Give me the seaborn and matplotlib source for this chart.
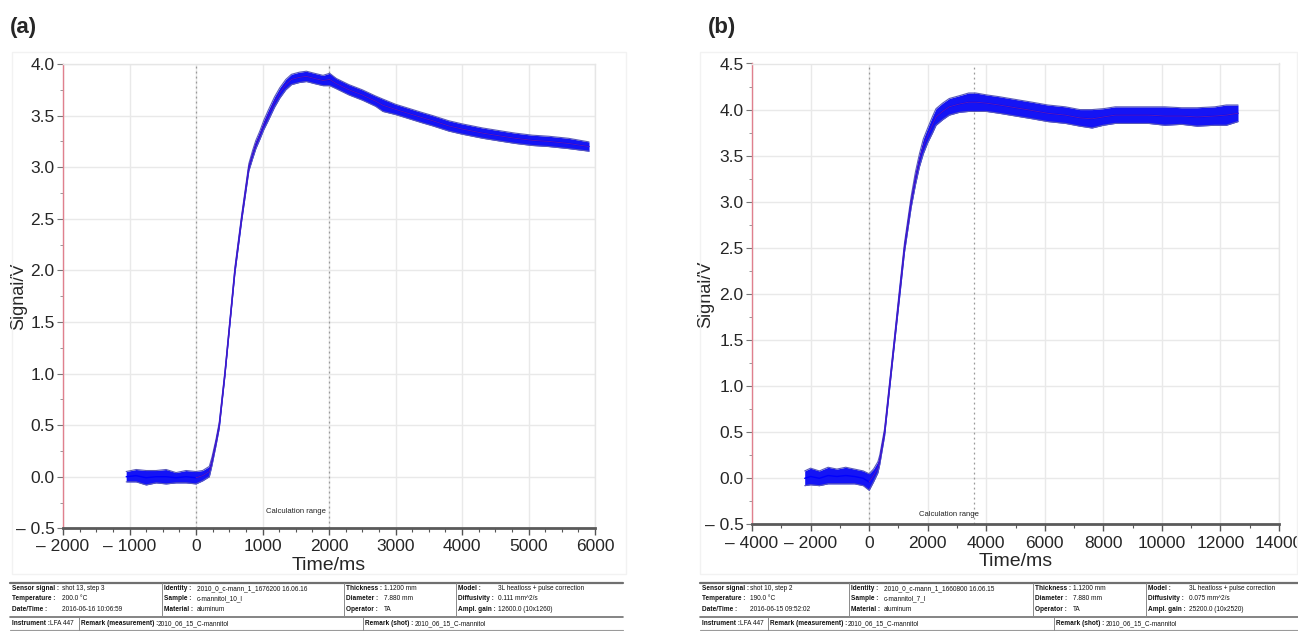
import matplotlib
matplotlib.use("Agg")
import matplotlib.pyplot as plt
from matplotlib.ticker import MultipleLocator
from matplotlib.lines import Line2D
from matplotlib.patches import Rectangle
import pandas as pd
import seaborn as sns

# ---------------- data: shot (a) ----------------
time_a = [-1050, -900, -750, -600, -450, -300, -150, 0, 100, 200, 240, 300, 350,
          435, 510, 585, 685, 795, 850, 900, 960, 1020, 1085, 1180, 1260, 1350, 1435, 1550,
          1660, 1780, 1910, 2010, 2110, 2300, 2500, 2700, 2810, 3000, 3200, 3400,
          3560, 3800, 4000, 4310, 4600, 4800, 5060, 5300, 5600, 5910]
signal_a = [0.00, 0.01, -0.01, 0.00, 0.00, -0.01, 0.00, -0.01, 0.01, 0.05, 0.15, 0.33, 0.50,
            1.00, 1.50, 2.00, 2.50, 3.00, 3.12, 3.22, 3.31, 3.41, 3.50, 3.63, 3.72, 3.80, 3.85, 3.87,
            3.88, 3.86, 3.84, 3.85, 3.81, 3.75, 3.70, 3.64, 3.60, 3.56, 3.52, 3.48,
            3.45, 3.40, 3.37, 3.33, 3.30, 3.28, 3.26, 3.25, 3.23, 3.20]
noise_a = [0.05, 0.06, 0.07, 0.06, 0.07, 0.05, 0.06, 0.06, 0.05, 0.05, 0.04, 0.03, 0.03,
           0.025, 0.025, 0.03, 0.03, 0.035, 0.04, 0.04, 0.04, 0.045, 0.05, 0.05, 0.05, 0.05, 0.05, 0.05,
           0.05, 0.05, 0.05, 0.06, 0.05, 0.05, 0.05, 0.05, 0.06, 0.05, 0.05, 0.05,
           0.05, 0.05, 0.05, 0.05, 0.05, 0.05, 0.05, 0.05, 0.05, 0.045]
calc_end_a = 2000

# ---------------- data: shot (b) ----------------
time_b = [-2200, -2000, -1700, -1400, -1100, -800, -500, -200, 0, 150, 300, 363, 529,
          698, 868, 1037, 1207, 1437, 1580, 1719, 1850, 2000, 2170, 2285, 2510, 2736,
          3077, 3400, 3644, 4000, 4438, 5000, 5571, 6100, 6705, 7200, 7612, 8000,
          8405, 9000, 9540, 10100, 10673, 11200, 11807, 12200, 12600]
signal_b = [0.00, 0.02, 0.00, 0.03, 0.02, 0.03, 0.02, 0.00, -0.04, 0.03, 0.12, 0.20, 0.50,
            1.00, 1.50, 2.00, 2.50, 3.00, 3.25, 3.45, 3.60, 3.72, 3.84, 3.92, 3.98, 4.03,
            4.06, 4.08, 4.08, 4.07, 4.05, 4.02, 3.99, 3.96, 3.94, 3.91, 3.90, 3.92,
            3.94, 3.94, 3.94, 3.93, 3.93, 3.92, 3.93, 3.94, 3.96]
noise_b = [0.08, 0.09, 0.08, 0.09, 0.08, 0.09, 0.08, 0.08, 0.09, 0.07, 0.06, 0.05, 0.04,
           0.04, 0.04, 0.05, 0.05, 0.06, 0.07, 0.07, 0.08, 0.08, 0.09, 0.09, 0.09, 0.09,
           0.09, 0.10, 0.10, 0.09, 0.09, 0.09, 0.09, 0.09, 0.09, 0.09, 0.10, 0.09,
           0.09, 0.09, 0.09, 0.10, 0.09, 0.10, 0.10, 0.11, 0.09]
calc_end_b = 3580

xticks_a = [-2000, -1000, 0, 1000, 2000, 3000, 4000, 5000, 6000]
xticks_b = [-4000, -2000, 0, 2000, 4000, 6000, 8000, 10000, 12000, 14000]
yticks_a = [-0.5, 0.0, 0.5, 1.0, 1.5, 2.0, 2.5, 3.0, 3.5, 4.0]
yticks_b = [-0.5, 0.0, 0.5, 1.0, 1.5, 2.0, 2.5, 3.0, 3.5, 4.0, 4.5]

info_a = {
    "rows": [[("Sensor signal :", "shot 13, step 3"), ("Identity :", "2010_0_c-mann_1_1676200 16.06.16"),
              ("Thickness :", "1.1200 mm"), ("Model :", "3L heatloss + pulse correction")],
             [("Temperature :", "200.0 °C"), ("Sample :", "c-mannitol_10_l"),
              ("Diameter :", "7.880 mm"), ("Diffusivity :", "0.111 mm^2/s")],
             [("Date/Time :", "2016-06-16 10:06:59"), ("Material :", "aluminum"),
              ("Operator :", "TA"), ("Ampl. gain :", "12600.0 (10x1260)")]],
    "last": [("Instrument :", "LFA 447"), ("Remark (measurement) :", "2010_06_15_C-mannitol"),
             ("Remark (shot) :", "2010_06_15_C-mannitol")],
}
info_b = {
    "rows": [[("Sensor signal :", "shot 10, step 2"), ("Identity :", "2010_0_c-mann_1_1660800 16.06.15"),
              ("Thickness :", "1.1200 mm"), ("Model :", "3L heatloss + pulse correction")],
             [("Temperature :", "190.0 °C"), ("Sample :", "c-mannitol_7_l"),
              ("Diameter :", "7.880 mm"), ("Diffusivity :", "0.075 mm^2/s")],
             [("Date/Time :", "2016-06-15 09:52:02"), ("Material :", "aluminum"),
              ("Operator :", "TA"), ("Ampl. gain :", "25200.0 (10x2520)")]],
    "last": [("Instrument :", "LFA 447"), ("Remark (measurement) :", "2010_06_15_C-mannitol"),
             ("Remark (shot) :", "2010_06_15_C-mannitol")],
}

sns.set_theme(style="white")
plt.rcParams["font.family"] = ["Liberation Sans", "DejaVu Sans"]

W, H = 1298, 631
fig = plt.figure(figsize=(W / 100, H / 100), dpi=100)


def px_rect(x0, y0, x1, y1):
    return [x0 / W, 1 - y1 / H, (x1 - x0) / W, (y1 - y0) / H]


def fmt_x(v):
    return f"\u2013 {abs(v):g}" if v < 0 else f"{v:g}"


def fmt_y(v):
    return f"\u2013 {abs(v):.1f}" if v < 0 else f"{v:.1f}"


def draw_panel(ax, t, s, hw, calc_end, xlim, ylim, xticks, yticks, xminor, calc_xy, ylab_x):
    df = pd.DataFrame({"t": t, "s": s, "hw": hw})
    lo = df["s"] - df["hw"]
    hi = df["s"] + df["hw"]
    for xv in xticks:
        ax.axvline(xv, color="#e9e9e9", lw=1.0, zorder=0)
    for yv in yticks:
        ax.axhline(yv, color="#e9e9e9", lw=1.0, zorder=0)
    for xv in (0, calc_end):
        ax.axvline(xv, color="#9a9a9a", lw=0.9, ls=(0, (1.5, 2.5)), zorder=1)
    ax.fill_between(df["t"], lo, hi, color="#1414f5", lw=0, zorder=2)
    ax.plot(df["t"], hi, color="#5a5ab8", lw=0.8, zorder=3)
    ax.plot(df["t"], lo, color="#5a5ab8", lw=0.8, zorder=3)
    sns.lineplot(data=df, x="t", y="s", ax=ax, color="#0000ff", lw=1.0, zorder=4)
    # model fit over the evaluated part of the transient
    fit = df[df["t"] >= 0]
    sns.lineplot(data=fit, x="t", y="s", ax=ax, color="#d0405a", lw=0.6, alpha=0.45, zorder=5)

    ax.set_xlim(*xlim)
    ax.set_ylim(*ylim)
    ax.set_xticks(xticks, [fmt_x(v) for v in xticks])
    ax.set_yticks(yticks, [fmt_y(v) for v in yticks])
    ax.xaxis.set_minor_locator(MultipleLocator(xminor))
    ax.yaxis.set_minor_locator(MultipleLocator(0.25))
    ax.tick_params(axis="x", which="major", direction="out", length=5, width=1.0,
                   color="#555555", labelsize=12.5, pad=3, bottom=True)
    ax.tick_params(axis="x", which="minor", direction="out", length=3, width=0.8,
                   color="#555555", bottom=True)
    ax.tick_params(axis="y", which="major", direction="out", length=4, width=0.8,
                   color="#777777", labelsize=12.5, pad=2, left=True)
    ax.tick_params(axis="y", which="minor", direction="out", length=2.5, width=0.6,
                   color="#888888", left=True)
    ax.spines["left"].set_color("#e0808e")
    ax.spines["left"].set_linewidth(1.0)
    ax.spines["bottom"].set_color("#5a5a5a")
    ax.spines["bottom"].set_linewidth(2.0)
    for side in ("top", "right"):
        ax.spines[side].set_color("#e6e6e6")
        ax.spines[side].set_linewidth(1.0)
    ax.set_xlabel("Time/ms", fontsize=14, labelpad=2)
    ax.set_ylabel("Signal/V", fontsize=13)
    ax.yaxis.set_label_coords(ylab_x, 0.5)
    ax.text(calc_xy[0], calc_xy[1], "Calculation range", fontsize=5.5,
            ha="center", va="center", color="#222222", zorder=6)
    ax.set_facecolor("white")


def draw_info(info, x0, x1, cols, last_cols, val_x, last_val_x):
    fs = 4.7
    y_top, y_sep, y_bot = 582.5, 616.5, 629.5
    row_y = [588.5, 599.0, 609.5]
    fig.add_artist(Line2D([x0 / W, x1 / W], [1 - y_top / H] * 2, color="#707070", lw=1.6))
    fig.add_artist(Line2D([x0 / W, x1 / W], [1 - y_sep / H] * 2, color="#707070", lw=1.2))
    fig.add_artist(Line2D([x0 / W, x1 / W], [1 - y_bot / H] * 2, color="#9a9a9a", lw=0.8))
    for cx in cols[1:]:
        fig.add_artist(Line2D([(cx - 2) / W] * 2, [1 - y_top / H, 1 - y_sep / H],
                              color="#8a8a8a", lw=0.7))
    for cx in last_cols[1:]:
        fig.add_artist(Line2D([(cx - 2) / W] * 2, [1 - y_sep / H, 1 - y_bot / H],
                              color="#8a8a8a", lw=0.7))
    for r, row in enumerate(info["rows"]):
        for c, (lab, val) in enumerate(row):
            fig.text(cols[c] / W, 1 - row_y[r] / H, lab, fontsize=fs, fontweight="bold",
                     ha="left", va="center", color="#111111")
            fig.text(val_x[c] / W, 1 - row_y[r] / H, val, fontsize=fs,
                     ha="left", va="center", color="#111111")
    for c, (lab, val) in enumerate(info["last"]):
        fig.text(last_cols[c] / W, 1 - 623.5 / H, lab, fontsize=fs, fontweight="bold",
                 ha="left", va="center", color="#111111")
        fig.text(last_val_x[c] / W, 1 - 623.5 / H, val, fontsize=fs,
                 ha="left", va="center", color="#111111")


# faint outer frames of each report page
for (x0, x1) in ((12, 626), (700, 1297)):
    fig.add_artist(Rectangle((x0 / W, 1 - 574 / H), (x1 - x0) / W, (574 - 52) / H,
                             fill=False, edgecolor="#f2f2f2", lw=1.0))

ax_a = fig.add_axes(px_rect(63, 64, 595, 528.3))
draw_panel(ax_a, time_a, signal_a, noise_a, calc_end_a, (-2000, 6000), (-0.5, 4.0),
           xticks_a, yticks_a, 250, (1500, -0.34), -0.068)

ax_b = fig.add_axes(px_rect(752, 63.5, 1279, 524.4))
draw_panel(ax_b, time_b, signal_b, noise_b, calc_end_b, (-4000, 14000), (-0.5, 4.5),
           xticks_b, yticks_b, 1000, (2710, -0.39), -0.071)

fig.text(10 / W, 1 - 27 / H, "(a)", fontsize=16, fontweight="bold", ha="left", va="center")
fig.text(708 / W, 1 - 27 / H, "(b)", fontsize=16, fontweight="bold", ha="left", va="center")

draw_info(info_a, 10, 623, [12, 164, 346, 458], [12, 81, 365],
          [62, 197, 384, 498], [50, 158, 415])
draw_info(info_b, 700, 1298, [702, 851, 1035, 1148], [702, 770, 1056],
          [750, 884, 1073, 1189], [740, 848, 1106])

fig.savefig("out.png", dpi=100, facecolor="white")
